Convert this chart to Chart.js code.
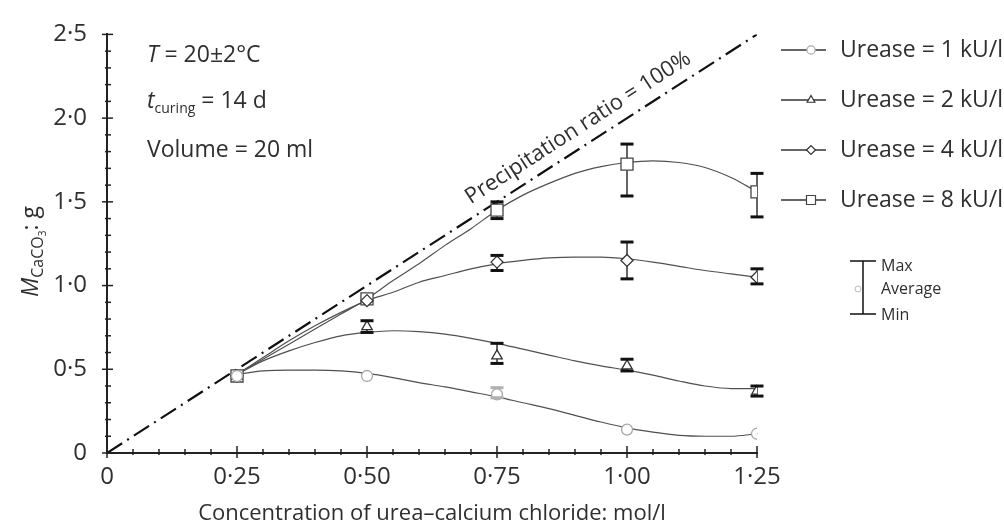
<!DOCTYPE html>
<html>
<head>
<meta charset="utf-8">
<script src="https://cdn.jsdelivr.net/npm/chart.js@4.4.1/dist/chart.umd.min.js"></script>
<style>
  html, body { margin: 0; padding: 0; background: #fff; }
  #wrap { width: 1004px; height: 530px; }
</style>
</head>
<body>
<div id="wrap"><canvas id="chart" width="1004" height="530"></canvas></div>
<script>
// measured points (average, max, min) per urease dose
const concentrations = [0.25, 0.5, 0.75, 1.0, 1.25];
const seriesLabels = ['Urease = 1 kU/l', 'Urease = 2 kU/l', 'Urease = 4 kU/l', 'Urease = 8 kU/l'];

const avg1 = [0.46, 0.46, 0.35, 0.14, 0.115];
const max1 = [0.47, 0.47, 0.39, 0.15, 0.12];
const min1 = [0.45, 0.45, 0.33, 0.13, 0.11];

const avg2 = [0.46, 0.755, 0.58, 0.52, 0.37];
const max2 = [0.47, 0.79, 0.655, 0.56, 0.40];
const min2 = [0.45, 0.72, 0.535, 0.49, 0.34];

const avg4 = [0.46, 0.91, 1.14, 1.15, 1.05];
const max4 = [0.47, 0.93, 1.18, 1.26, 1.10];
const min4 = [0.45, 0.89, 1.09, 1.04, 1.01];

const avg8 = [0.46, 0.92, 1.45, 1.725, 1.56];
const max8 = [0.47, 0.94, 1.50, 1.845, 1.67];
const min8 = [0.45, 0.90, 1.40, 1.535, 1.41];

// fitted curves
const curveX = [0.25, 0.3, 0.35, 0.4, 0.45, 0.5, 0.55, 0.6, 0.65, 0.7, 0.75, 0.8, 0.85, 0.9, 0.95, 1.0, 1.05, 1.1, 1.15, 1.2, 1.25];
const curve1 = [0.47, 0.49, 0.495, 0.495, 0.49, 0.475, 0.45, 0.42, 0.395, 0.365, 0.335, 0.30, 0.265, 0.225, 0.185, 0.15, 0.125, 0.105, 0.10, 0.10, 0.115];
const curve2 = [0.47, 0.55, 0.61, 0.66, 0.70, 0.72, 0.73, 0.725, 0.71, 0.685, 0.655, 0.62, 0.585, 0.55, 0.52, 0.495, 0.465, 0.43, 0.40, 0.385, 0.385];
const curve4 = [0.47, 0.57, 0.67, 0.76, 0.84, 0.91, 0.96, 1.02, 1.06, 1.10, 1.13, 1.15, 1.165, 1.17, 1.17, 1.16, 1.14, 1.115, 1.09, 1.07, 1.05];
const curve8 = [0.47, 0.56, 0.65, 0.74, 0.83, 0.92, 1.03, 1.13, 1.24, 1.34, 1.45, 1.54, 1.61, 1.67, 1.71, 1.735, 1.745, 1.735, 1.705, 1.645, 1.56];

// precipitation ratio = 100 %
const ratioX = [0, 1.25];
const ratioY = [0, 2.5];

const xTickLabels = ['0', '0·25', '0·50', '0·75', '1·00', '1·25'];
const yTickLabels = ['0', '0·5', '1·0', '1·5', '2·0', '2·5'];

const FONT = '"Open Sans", "Noto Sans", sans-serif';
const TEXT = '#2f2f2f';
const pts = (xs, ys) => xs.map((x, i) => ({ x, y: ys[i] }));

const markers = [
  { style: 'circle', radius: 5.5, color: '#a8a8a8' },
  { style: 'triangle', radius: 6, color: '#333' },
  { style: 'rectRot', radius: 6, color: '#333' },
  { style: 'rect', radius: 8.5, color: '#444' },
];
const errors = [
  { max: max1, min: min1, color: '#b0b0b0' },
  { max: max2, min: min2, color: '#111' },
  { max: max4, min: min4, color: '#111' },
  { max: max8, min: min8, color: '#111' },
];
const curves = [curve1, curve2, curve4, curve8];
const avgs = [avg1, avg2, avg4, avg8];

function runs(ctx, x, y, parts) {
  for (const p of parts) {
    ctx.font = p.font;
    ctx.fillText(p.text, x, y + (p.dy || 0));
    x += ctx.measureText(p.text).width;
  }
}

const decor = {
  id: 'decor',
  beforeDatasetsDraw(chart) {
    const { ctx, scales: { x, y } } = chart;
    ctx.save();
    errors.forEach((e) => {
      ctx.strokeStyle = e.color;
      ctx.lineWidth = 1.3;
      concentrations.forEach((c, i) => {
        const px = x.getPixelForValue(c);
        ctx.beginPath();
        ctx.moveTo(px, y.getPixelForValue(e.max[i]));
        ctx.lineTo(px, y.getPixelForValue(e.min[i]));
        ctx.stroke();
      });
    });
    ctx.restore();
  },
  afterDatasetsDraw(chart) {
    const { ctx, scales: { x, y }, chartArea: a } = chart;
    ctx.save();

    // error bar caps
    errors.forEach((e) => {
      ctx.strokeStyle = e.color;
      ctx.lineWidth = 3;
      concentrations.forEach((c, i) => {
        if (e.max[i] - e.min[i] < 0.05) return;
        const px = x.getPixelForValue(c);
        [e.max[i], e.min[i]].forEach((v) => {
          const py = y.getPixelForValue(v);
          ctx.beginPath();
          ctx.moveTo(px - 6.5, py);
          ctx.lineTo(px + 6.5, py);
          ctx.stroke();
        });
      });
    });

    // ticks (major cross the axis, minor short)
    ctx.strokeStyle = '#222';
    ctx.lineWidth = 1.5;
    x.ticks.forEach((t) => {
      const px = x.getPixelForValue(t.value);
      const major = t.label !== '';
      ctx.beginPath();
      ctx.moveTo(px, a.bottom - (major ? 7 : 4));
      ctx.lineTo(px, a.bottom + (major ? 5 : 2));
      ctx.stroke();
    });
    y.ticks.forEach((t) => {
      const py = y.getPixelForValue(t.value);
      const major = t.label !== '';
      ctx.beginPath();
      ctx.moveTo(a.left - (major ? 5 : 2), py);
      ctx.lineTo(a.left + (major ? 6 : 4), py);
      ctx.stroke();
    });

    ctx.fillStyle = TEXT;
    ctx.textBaseline = 'alphabetic';
    ctx.textAlign = 'left';

    // conditions
    runs(ctx, 147, 62, [{ text: 'T', font: `italic 23px ${FONT}` }, { text: ' = 20±2°C', font: `23px ${FONT}` }]);
    runs(ctx, 147, 108, [
      { text: 't', font: `italic 23px ${FONT}` },
      { text: 'curing', font: `14px ${FONT}`, dy: 5 },
      { text: ' = 14 d', font: `23px ${FONT}` },
    ]);
    runs(ctx, 147, 157, [{ text: 'Volume = 20 ml', font: `23px ${FONT}` }]);

    // precipitation ratio label along the line
    const x0 = x.getPixelForValue(ratioX[0]), y0 = y.getPixelForValue(ratioY[0]);
    const x1 = x.getPixelForValue(ratioX[1]), y1 = y.getPixelForValue(ratioY[1]);
    const ang = Math.atan2(y1 - y0, x1 - x0);
    const mx = x.getPixelForValue(0.925), my = y.getPixelForValue(0.925 * 2);
    ctx.save();
    ctx.translate(mx, my);
    ctx.rotate(ang);
    ctx.font = `22px ${FONT}`;
    ctx.textAlign = 'center';
    ctx.fillText('Precipitation ratio = 100%', 0, -12);
    ctx.restore();

    // legend
    seriesLabels.forEach((lab, i) => {
      const ly = 50 + 50 * i;
      ctx.strokeStyle = '#333';
      ctx.lineWidth = 1.3;
      ctx.beginPath();
      ctx.moveTo(781, ly);
      ctx.lineTo(826, ly);
      ctx.stroke();
      const m = markers[i];
      ctx.fillStyle = '#fff';
      ctx.strokeStyle = m.color;
      ctx.lineWidth = 1.2;
      Chart.helpers.drawPoint(ctx, { pointStyle: m.style, radius: m.radius * 0.75, rotation: 0, borderWidth: 1.2 }, 811, ly);
      ctx.fillStyle = TEXT;
      ctx.font = `23px ${FONT}`;
      ctx.textBaseline = 'middle';
      ctx.fillText(lab, 840, ly);
    });

    // max / average / min key
    ctx.strokeStyle = '#111';
    ctx.lineWidth = 1.5;
    ctx.beginPath();
    ctx.moveTo(850, 261); ctx.lineTo(876, 261);
    ctx.moveTo(863, 261); ctx.lineTo(863, 314);
    ctx.moveTo(850, 314); ctx.lineTo(876, 314);
    ctx.stroke();
    ctx.fillStyle = '#fff';
    ctx.strokeStyle = '#bbb';
    ctx.lineWidth = 1;
    ctx.beginPath();
    ctx.arc(858, 289, 3, 0, Math.PI * 2);
    ctx.fill();
    ctx.stroke();
    ctx.fillStyle = TEXT;
    ctx.font = `16px ${FONT}`;
    ctx.textBaseline = 'middle';
    ctx.fillText('Max', 881, 266);
    ctx.fillText('Average', 881, 289);
    ctx.fillText('Min', 881, 315);

    // axis titles
    ctx.textBaseline = 'alphabetic';
    ctx.textAlign = 'center';
    ctx.font = `22px ${FONT}`;
    ctx.fillText('Concentration of urea–calcium chloride: mol/l', (a.left + a.right) / 2, 520);

    ctx.save();
    ctx.translate(38, 297);
    ctx.rotate(-Math.PI / 2);
    ctx.textAlign = 'left';
    runs(ctx, 0, 0, [
      { text: 'M', font: `italic 23px ${FONT}` },
      { text: 'CaCO', font: `16px ${FONT}`, dy: 5 },
      { text: '3', font: `10px ${FONT}`, dy: 8 },
      { text: ': g', font: `23px ${FONT}` },
    ]);
    ctx.restore();

    ctx.restore();
  },
};

const datasets = [
  {
    label: 'ratio',
    data: pts(ratioX, ratioY),
    borderColor: '#111',
    borderWidth: 2.2,
    borderDash: [18, 6, 2, 6],
    pointRadius: 0,
    order: 3,
  },
  ...curves.map((c, i) => ({
    label: seriesLabels[i] + ' fit',
    data: pts(curveX, c),
    borderColor: '#505050',
    borderWidth: 1.2,
    pointRadius: 0,
    tension: 0.4,
    cubicInterpolationMode: 'monotone',
    order: 2,
  })),
  ...avgs.map((v, i) => ({
    label: seriesLabels[i],
    data: pts(concentrations, v),
    showLine: false,
    pointStyle: markers[i].style,
    pointRadius: markers[i].radius,
    pointBorderWidth: 1.3,
    pointBorderColor: markers[i].color,
    pointBackgroundColor: '#fff',
    order: 1,
  })),
];

new Chart(document.getElementById('chart'), {
  type: 'line',
  data: { datasets },
  plugins: [decor],
  options: {
    responsive: false,
    animation: false,
    devicePixelRatio: 1,
    layout: { padding: { left: 0, right: 247, top: 33, bottom: 0 } },
    plugins: { legend: { display: false }, tooltip: { enabled: false } },
    scales: {
      x: {
        type: 'linear',
        min: 0,
        max: 1.25,
        afterFit: (s) => { s.height = 77; },
        grid: { display: false, drawTicks: false },
        border: { display: true, color: '#222', width: 2 },
        ticks: {
          stepSize: 0.05,
          autoSkip: false,
          maxRotation: 0,
          padding: 10,
          color: TEXT,
          font: { family: FONT, size: 24 },
          callback: (v) => {
            const i = Math.round(v * 100);
            return i % 25 === 0 ? xTickLabels[i / 25] : '';
          },
        },
      },
      y: {
        min: 0,
        max: 2.5,
        afterFit: (s) => { s.width = 107; },
        grid: { display: false, drawTicks: false },
        border: { display: true, color: '#222', width: 2 },
        ticks: {
          stepSize: 0.1,
          autoSkip: false,
          padding: 20,
          color: TEXT,
          font: { family: FONT, size: 24 },
          callback: (v) => {
            const i = Math.round(v * 10);
            return i % 5 === 0 ? yTickLabels[i / 5] : '';
          },
        },
      },
    },
  },
});
</script>
</body>
</html>
